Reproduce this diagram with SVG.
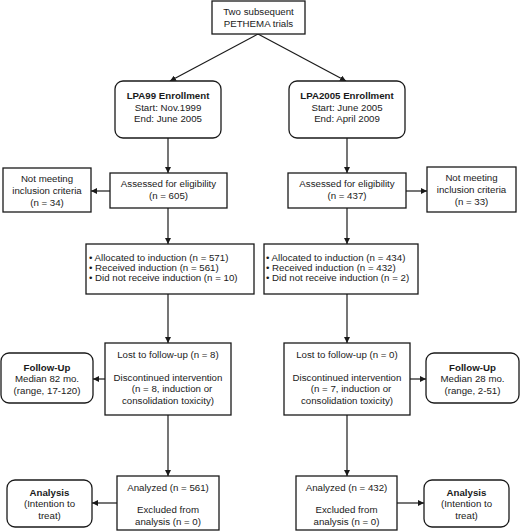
<svg xmlns="http://www.w3.org/2000/svg" width="520" height="531" viewBox="0 0 520 531">
<style>
rect{fill:#fff;stroke:#1a1a1a;stroke-width:1.3}
text{font-family:"Liberation Sans",Arial,sans-serif;font-size:9.7px;fill:#1a1a1a;text-anchor:middle}
.b{font-weight:bold}
.l{text-anchor:start}
#connectors line{stroke:#1a1a1a;stroke-width:1.2;marker-end:url(#ah)}
</style>
<defs>
<marker id="ah" markerUnits="userSpaceOnUse" markerWidth="7" markerHeight="6" refX="6" refY="3" orient="auto">
<path d="M0,0 L6,3 L0,6 Z" fill="#1a1a1a"/>
</marker>
</defs>
<rect x="0" y="0" width="520" height="531" style="fill:#fff;stroke:none"/>
<g id="connectors">
<line x1="258" y1="34" x2="170" y2="81"/>
<line x1="258" y1="34" x2="346" y2="81"/>
<line x1="168" y1="138" x2="168" y2="173"/>
<line x1="347" y1="138" x2="347" y2="173"/>
<line x1="110" y1="191" x2="91" y2="191"/>
<line x1="406" y1="191" x2="427" y2="191"/>
<line x1="168" y1="208" x2="168" y2="244"/>
<line x1="347" y1="208" x2="347" y2="244"/>
<line x1="168" y1="294" x2="168" y2="343"/>
<line x1="347" y1="294" x2="347" y2="343"/>
<line x1="105" y1="379" x2="93" y2="379"/>
<line x1="410" y1="379" x2="426" y2="379"/>
<line x1="168" y1="415" x2="168" y2="476"/>
<line x1="347" y1="415" x2="347" y2="476"/>
<line x1="117" y1="503" x2="92" y2="503"/>
<line x1="397" y1="503" x2="424" y2="503"/>
</g>
<g id="top">
<rect x="212" y="1" width="93" height="33"/>
<text x="258.5" y="15">Two subsequent</text>
<text x="258.5" y="27">PETHEMA trials</text>
</g>
<g id="lpa99">
<rect x="115" y="81" width="106" height="57" rx="8"/>
<text class="b" x="168" y="99">LPA99 Enrollment</text>
<text x="168" y="110.5">Start: Nov.1999</text>
<text x="168" y="122">End: June 2005</text>
</g>
<g id="lpa2005">
<rect x="289" y="81" width="116" height="57" rx="8"/>
<text class="b" x="347" y="99">LPA2005 Enrollment</text>
<text x="347" y="110.5">Start: June 2005</text>
<text x="347" y="122">End: April 2009</text>
</g>
<g id="assess99">
<rect x="110" y="173" width="117" height="35"/>
<text x="168.5" y="186.5">Assessed for eligibility</text>
<text x="168.5" y="198.5">(n = 605)</text>
</g>
<g id="assess05">
<rect x="288" y="173" width="118" height="35"/>
<text x="347" y="186.5">Assessed for eligibility</text>
<text x="347" y="198.5">(n = 437)</text>
</g>
<g id="notmeet99">
<rect x="3" y="168" width="88" height="44"/>
<text x="47" y="181.5">Not meeting</text>
<text x="47" y="193.5">inclusion criteria</text>
<text x="47" y="205.5">(n = 34)</text>
</g>
<g id="notmeet05">
<rect x="427" y="167" width="89" height="45"/>
<text x="471.5" y="181">Not meeting</text>
<text x="471.5" y="193">inclusion criteria</text>
<text x="471.5" y="205">(n = 33)</text>
</g>
<g id="alloc99">
<rect x="86" y="244" width="168" height="50"/>
<text class="l" x="89" y="260.5">• Allocated to induction (n = 571)</text>
<text class="l" x="89" y="270.5">• Received induction (n = 561)</text>
<text class="l" x="89" y="280.5">• Did not receive induction (n = 10)</text>
</g>
<g id="alloc05">
<rect x="264" y="244" width="154" height="50"/>
<text class="l" x="266" y="260.5">• Allocated to induction (n = 434)</text>
<text class="l" x="266" y="270.5">• Received induction (n = 432)</text>
<text class="l" x="266" y="280.5">• Did not receive induction (n = 2)</text>
</g>
<g id="lost99">
<rect x="105" y="343" width="126" height="72"/>
<text x="168" y="357.5">Lost to follow-up (n = 8)</text>
<text x="168" y="380.5">Discontinued intervention</text>
<text x="172" y="392">(n = 8, induction or</text>
<text x="168" y="403.5">consolidation toxicity)</text>
</g>
<g id="lost05">
<rect x="284" y="343" width="126" height="72"/>
<text x="347" y="357.5">Lost to follow-up (n = 0)</text>
<text x="347" y="380.5">Discontinued intervention</text>
<text x="351" y="392">(n = 7, induction or</text>
<text x="347" y="403.5">consolidation toxicity)</text>
</g>
<g id="follow99">
<rect x="1" y="353" width="92" height="50" rx="8"/>
<text class="b" x="47" y="370.5">Follow-Up</text>
<text x="47" y="382">Median 82 mo.</text>
<text x="47" y="393.5">(range, 17-120)</text>
</g>
<g id="follow05">
<rect x="426" y="353" width="93" height="50" rx="8"/>
<text class="b" x="472.5" y="370.5">Follow-Up</text>
<text x="472.5" y="382">Median 28 mo.</text>
<text x="472.5" y="393.5">(range, 2-51)</text>
</g>
<g id="analyzed99">
<rect x="117" y="476" width="102" height="54"/>
<text x="168" y="490.5">Analyzed (n = 561)</text>
<text x="168" y="513">Excluded from</text>
<text x="168" y="524.5">analysis (n = 0)</text>
</g>
<g id="analyzed05">
<rect x="296" y="476" width="101" height="54"/>
<text x="346.5" y="490.5">Analyzed (n = 432)</text>
<text x="346.5" y="513">Excluded from</text>
<text x="346.5" y="524.5">analysis (n = 0)</text>
</g>
<g id="analysis99">
<rect x="7" y="480" width="85" height="47" rx="8"/>
<text class="b" x="49.5" y="495.5">Analysis</text>
<text x="49.5" y="507">(Intention to</text>
<text x="49.5" y="518.5">treat)</text>
</g>
<g id="analysis05">
<rect x="424" y="480" width="85" height="47" rx="8"/>
<text class="b" x="466.5" y="495.5">Analysis</text>
<text x="466.5" y="507">(Intention to</text>
<text x="466.5" y="518.5">treat)</text>
</g>
</svg>
